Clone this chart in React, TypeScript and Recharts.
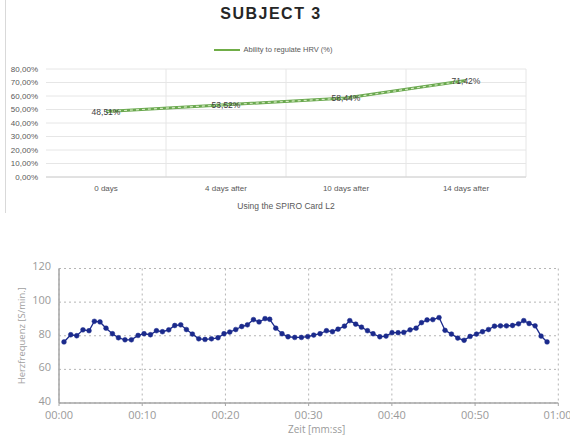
import React from 'react';
import {
  LineChart,
  Line,
  XAxis,
  YAxis,
  CartesianGrid,
  Legend,
  LabelList
} from 'recharts';

// top chart: ability to regulate HRV
const stages = ['0 days', '4 days after', '10 days after', '14 days after'];
const hrvAbility = [0.4851, 0.5352, 0.5844, 0.7142];
const pctTicks = [0, 0.1, 0.2, 0.3, 0.4, 0.5, 0.6, 0.7, 0.8];

// bottom chart: heart rate over time (seconds / beats per minute)
const beatTimes = [
  0.6, 1.41, 2.13, 2.88, 3.61, 4.25, 4.93, 5.65, 6.42, 7.14, 7.93, 8.7, 9.5, 10.22, 10.99, 11.71,
  12.43, 13.19, 13.91, 14.63, 15.31, 16.03, 16.79, 17.55, 18.32, 19.11, 19.83, 20.52, 21.24, 21.96,
  22.64, 23.37, 24.04, 24.76, 25.32, 26.05, 26.8, 27.52, 28.33, 29.13, 29.89, 30.61, 31.37, 32.14,
  32.86, 33.53, 34.3, 34.94, 35.66, 36.35, 37.07, 37.74, 38.55, 39.3, 40.02, 40.75, 41.43, 42.19,
  42.91, 43.56, 44.23, 44.92, 45.67, 46.39, 47.16, 47.92, 48.68, 49.4, 50.17, 50.89, 51.61, 52.33,
  53.05, 53.77, 54.5, 55.22, 55.85, 56.49, 57.21, 57.93, 58.65
];
const heartRate = [
  76.3, 80.6, 80.0, 83.5, 83.0, 88.6, 88.2, 84.5, 81.2, 78.8, 77.6, 77.6, 80.2, 81.2, 80.6, 83.0,
  82.4, 83.5, 86.1, 86.5, 83.7, 81.0, 78.2, 77.8, 78.2, 78.8, 81.2, 82.2, 83.7, 85.5,
  86.5, 89.6, 88.2, 90.2, 89.8, 84.5, 81.2, 79.4, 79.0, 79.0, 79.5, 80.4, 81.2, 83.0,
  82.4, 83.9, 85.7, 89.0, 86.9, 85.1, 83.0, 81.2, 79.4, 79.8, 81.8, 81.8, 82.0, 83.5,
  84.5, 87.8, 89.4, 89.6, 90.8, 83.2, 81.0, 78.6, 77.3, 79.6, 81.0, 82.4, 83.7, 85.7,
  85.9, 85.9, 86.1, 87.1, 89.0, 87.3, 85.9, 79.8, 76.3
];
const timeTicks = [0, 10, 20, 30, 40, 50, 60];
const bpmTicks = [40, 60, 80, 100, 120];

const hrvData = stages.map((stage, i) => ({ stage, value: hrvAbility[i] }));
const hrData = beatTimes.map((t, i) => ({ t, bpm: heartRate[i] }));

const pct = (v: number) => (v * 100).toFixed(2).replace('.', ',') + '%';
const mmss = (v: number) => `${String(Math.floor(v / 60)).padStart(2, '0')}:${String(v % 60).padStart(2, '0')}`;

const LegendBox = () => (
  <div style={{ display: 'flex', alignItems: 'center', justifyContent: 'center', fontSize: 7.5, color: '#595959' }}>
    <svg width={26} height={6}>
      <line x1={0} y1={3} x2={26} y2={3} stroke="#70ad47" strokeWidth={2} />
    </svg>
    <span style={{ marginLeft: 3 }}>Ability to regulate HRV (%)</span>
  </div>
);

export default function App() {
  return (
    <div
      style={{
        position: 'fixed',
        left: 0,
        top: 0,
        width: 570,
        height: 435,
        background: '#fff',
        fontFamily: '"Liberation Sans", Arial, sans-serif'
      }}
    >
      <div style={{ position: 'absolute', left: 5, top: 0, width: 565, height: 213, borderLeft: '1px solid #d9d9d9' }}>
        <div
          style={{
            position: 'absolute',
            top: 5,
            left: 0,
            width: 530,
            textAlign: 'center',
            fontSize: 16,
            fontWeight: 'bold',
            letterSpacing: 1.5,
            color: '#262626'
          }}
        >
          SUBJECT 3
        </div>
        <LineChart width={565} height={213} data={hrvData} margin={{ top: 60, right: 45, left: 2, bottom: 0 }}>
          <CartesianGrid
            stroke="#e6e6e6"
            verticalCoordinatesGenerator={({ offset }: any) =>
              [1, 2, 3, 4].map((i) => offset.left + (offset.width * i) / stages.length)
            }
          />
          <XAxis
            dataKey="stage"
            axisLine={{ stroke: '#d0d0d0' }}
            tickLine={false}
            padding={{ left: 60, right: 60 }}
            interval={0}
            tick={{ fontSize: 8, fill: '#595959' }}
            height={36}
            label={{ value: 'Using the SPIRO Card L2', position: 'insideBottom', offset: 4, fontSize: 8.5, fill: '#595959' }}
          />
          <YAxis
            domain={[0, 0.8]}
            ticks={pctTicks}
            interval={0}
            tickFormatter={pct}
            axisLine={false}
            tickLine={false}
            tick={{ fontSize: 8, fill: '#595959' }}
            width={38}
          />
          <Legend verticalAlign="top" content={() => <LegendBox />} wrapperStyle={{ top: 45, left: 0, width: 535 }} />
          <Line
            dataKey="value"
            stroke="#6aa84f"
            strokeWidth={3}
            dot={false}
            isAnimationActive={false}
          >
            <LabelList dataKey="value" position="center" formatter={pct} fontSize={8.5} fill="#404040" />
          </Line>
          <Line
            dataKey="value"
            stroke="#d4ebc0"
            strokeWidth={1.2}
            strokeDasharray="3 3"
            dot={false}
            legendType="none"
            isAnimationActive={false}
          />
        </LineChart>
      </div>

      <div style={{ position: 'absolute', left: 0, top: 255, width: 570, height: 180 }}>
        <LineChart
          width={570}
          height={180}
          data={hrData}
          margin={{ top: 13.5, right: 11.7, left: 19, bottom: 2 }}
          style={{ fontFamily: '"Open Sans", sans-serif' }}
        >
          <CartesianGrid stroke="#b5b5b5" strokeDasharray="2 3" />
          <XAxis
            dataKey="t"
            type="number"
            domain={[0, 60]}
            ticks={timeTicks}
            tickFormatter={mmss}
            axisLine={{ stroke: '#a6a6a6', strokeWidth: 1.5 }}
            tickLine={{ stroke: '#a6a6a6' }}
            tickSize={3}
            tick={{ fontSize: 11, fill: '#9a9a9a', dy: 3 }}
            height={30}
            label={{ value: 'Zeit [mm:ss]', position: 'insideBottom', offset: 0, dx: 8, fontSize: 10, fill: '#9a9a9a' }}
          />
          <YAxis
            domain={[40, 120]}
            ticks={bpmTicks}
            axisLine={{ stroke: '#a6a6a6', strokeWidth: 1.5 }}
            tickLine={false}
            tick={{ fontSize: 11, fill: '#9a9a9a', dy: -2 }}
            width={40}
            label={{
              value: 'Herzfrequenz [S/min.]',
              angle: -90,
              position: 'insideLeft',
              offset: 3,
              style: { textAnchor: 'middle' },
              fontSize: 9.5,
              fill: '#a0a0a0'
            }}
          />
          <Line
            dataKey="bpm"
            type="linear"
            stroke="#1b2a8c"
            strokeWidth={1.3}
            dot={{ r: 2.4, fill: '#1b2a8c', stroke: '#1b2a8c', strokeWidth: 0.5 }}
            isAnimationActive={false}
          />
        </LineChart>
      </div>
    </div>
  );
}
